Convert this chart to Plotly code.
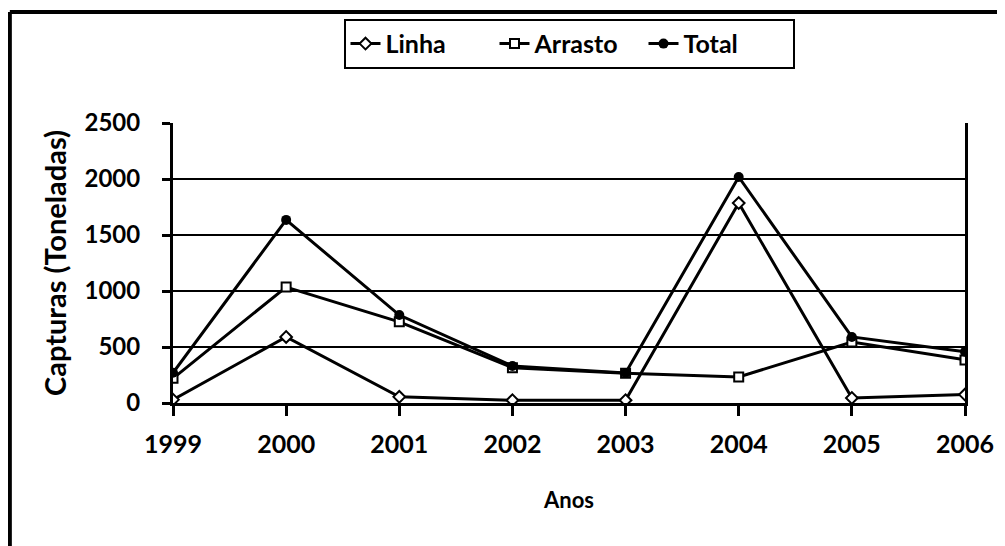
import plotly.graph_objects as go

anos = [1999, 2000, 2001, 2002, 2003, 2004, 2005, 2006]
linha = [30, 590, 55, 25, 25, 1785, 45, 75]
arrasto = [220, 1035, 725, 315, 265, 232, 545, 385]
total = [270, 1635, 785, 330, 268, 2018, 590, 458]
y_ticks = [0, 500, 1000, 1500, 2000, 2500]

FONT = "Lato"

fig = go.Figure()
fig.add_trace(go.Scatter(x=anos, y=linha, name="Linha", mode="lines+markers",
                         line=dict(color="black", width=3),
                         marker=dict(symbol="diamond", size=9, color="white",
                                     line=dict(color="black", width=2))))
fig.add_trace(go.Scatter(x=anos, y=arrasto, name="Arrasto", mode="lines+markers",
                         line=dict(color="black", width=3),
                         marker=dict(symbol="square", size=9, color="white",
                                     line=dict(color="black", width=2))))
fig.add_trace(go.Scatter(x=anos, y=total, name="Total", mode="lines+markers",
                         line=dict(color="black", width=3),
                         marker=dict(symbol="circle", size=10, color="black")))

fig.update_layout(
    width=997, height=538,
    margin=dict(l=165, r=40, t=115, b=143, autoexpand=False),
    paper_bgcolor="white", plot_bgcolor="white",
    font=dict(family=FONT, color="black", size=20),
    showlegend=True,
    legend=dict(orientation="h", x=0.5, xanchor="center", y=1.372, yanchor="top",
                bordercolor="black", borderwidth=2, bgcolor="white",
                font=dict(family=FONT, size=25, weight="bold"),
                itemwidth=30, entrywidth=104, entrywidthmode="pixels"),
    xaxis=dict(range=[1999, 2006], tickvals=anos, ticktext=[str(a) for a in anos],
               showgrid=False, zeroline=False, showline=True, linecolor="black", linewidth=3,
               ticks="outside", ticklen=10, tickwidth=3, tickcolor="black",
               ticklabelstandoff=7,
               tickfont=dict(family=FONT, size=25, weight="bold"),
               title=dict(text="Anos", standoff=36, font=dict(family=FONT, size=22, weight="bold"))),
    yaxis=dict(range=[0, 2500], tickvals=y_ticks,
               showgrid=True, gridcolor="black", gridwidth=2, zeroline=False,
               showline=True, linecolor="black", linewidth=3, mirror=True,
               ticks="outside", ticklen=8, tickwidth=3, tickcolor="black",
               ticklabelstandoff=17,
               tickfont=dict(family=FONT, size=24, weight="bold"),
               title=dict(text="Capturas (Toneladas)", standoff=10,
                          font=dict(family=FONT, size=29, weight="bold"))),
)

# outer frame lines (left and top) seen in the scan
fig.add_shape(type="line", xref="paper", yref="paper", x0=-0.206, x1=1.06, y0=1.396, y1=1.396,
              line=dict(color="black", width=4))
fig.add_shape(type="line", xref="paper", yref="paper", x0=-0.206, x1=-0.206, y0=1.396, y1=-0.52,
              line=dict(color="black", width=4))

fig.write_html("out.html")
